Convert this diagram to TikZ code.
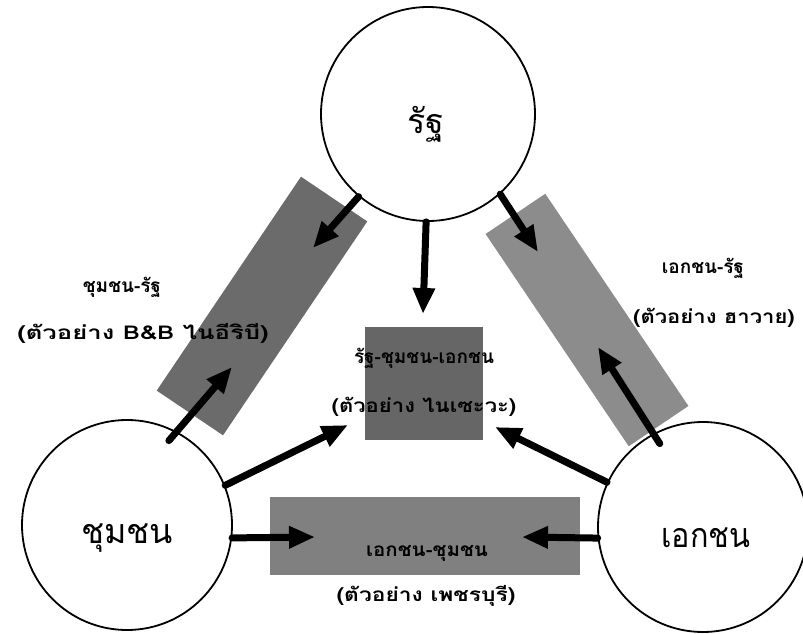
\documentclass[tikz,border=0pt]{standalone}
\usepackage{fontspec}
\usepackage{graphicx}
\newfontfamily\thaifont[Script=Thai]{Loma}
\usetikzlibrary{arrows.meta}
\tikzset{
  party/.style={circle, draw, line width=1.8pt, minimum size=#1, inner sep=0pt},
  band/.style={fill=black!#1, draw=none, inner sep=0pt},
  arr/.style={line width=7pt, line cap=round, -{Triangle[length=26pt,width=21pt]}},
  big/.style={font=\thaifont\fontsize{34}{40}\selectfont},
  lbl/.style={font=\thaifont\bfseries\fontsize{19}{22}\selectfont, inner sep=0pt}
}
\begin{document}
\begin{tikzpicture}[x=1pt,y=-1pt]
\useasboundingbox (0,0) rectangle (803,634);
% shaded bands and boxes
\node[band=58, minimum width=258pt, minimum height=80pt, rotate=56] (lband) at (262,306) {};
\node[band=45, minimum width=256pt, minimum height=72pt, rotate=-56] (rband) at (587,320) {};
\node[band=60, minimum width=118pt, minimum height=113pt] (mid) at (424,383) {};
\node[band=50, minimum width=310pt, minimum height=78pt] (bot) at (425,536) {};
% circles
\node[party=214pt] (state) at (428,114) {};
\node[party=210pt] (comm) at (127,525) {};
\node[party=210pt] (priv) at (703,527) {};
\node[big] (tstate) at (426,124) {รัฐ};
\node[big] (tcomm) at (127,538) {ชุมชน};
\node[big] (tpriv) at (706,538) {\scalebox{0.9}[1]{เอกชน}};
% arrow tips
\coordinate (t1) at (313,248);
\coordinate (t2) at (538,252);
\coordinate (t3) at (423,314);
\coordinate (t4) at (232,367);
\coordinate (t5) at (598,347);
\coordinate (t6) at (348,425);
\coordinate (t7) at (495,427);
\coordinate (t8) at (315,537);
\coordinate (t9) at (522,537);
% arrows
\draw[arr] (state.230) -- (t1);
\draw[arr] (state.-48) -- (t2);
\draw[arr] (state.-91) -- (t3);
\draw[arr, shorten <=-12pt] (comm.62) -- (t4);
\draw[arr, shorten <=-12pt] (priv.118) -- (t5);
\draw[arr] (comm.22) -- (t6);
\draw[arr] (priv.155) -- (t7);
\draw[arr] (comm.-7) -- (t8);
\draw[arr] (priv.186) -- (t9);
% labels
\node[lbl] (l1) at (122,287) {ชุมชน-รัฐ};
\node[lbl] (l2) at (143,333) {\scalebox{1.35}[1]{(ตัวอย่าง B\&B ไนอีริบี)}};
\node[lbl] (r1) at (703,268) {เอกชน-รัฐ};
\node[lbl] (r2) at (714,318) {\scalebox{1.16}[1]{(ตัวอย่าง ฮาวาย)}};
\node[lbl] (m1) at (424,358) {รัฐ-ชุมชน-เอกชน};
\node[lbl] (m2) at (424,407) {\scalebox{1.16}[1]{(ตัวอย่าง ไนเซะวะ)}};
\node[lbl] (b1) at (427,553) {\scalebox{1.08}[1]{เอกชน-ชุมชน}};
\node[lbl] (b2) at (426,596) {\scalebox{1.2}[1]{(ตัวอย่าง เพชรบุรี)}};
\end{tikzpicture}
\end{document}
